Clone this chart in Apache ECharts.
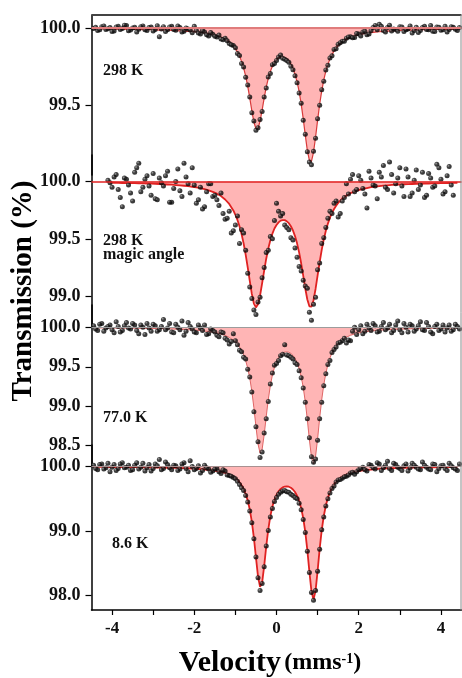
<!DOCTYPE html>
<html><head><meta charset="utf-8">
<script src="https://cdn.jsdelivr.net/npm/echarts@6/dist/echarts.min.js"></script>
<style>html,body{margin:0;padding:0;background:#fff}#c{width:462px;height:678px}</style>
</head><body><div id="c"></div>
<script>
// ---------- DATA ----------
const velocity = [-4.45,-4.35,-4.25,-4.15,-4.05,-3.95,-3.85,-3.75,-3.65,-3.55,-3.45,-3.35,-3.25,-3.15,-3.05,-2.95,-2.85,-2.75,-2.65,-2.55,-2.45,-2.35,-2.25,-2.15,-2.05,-1.95,-1.85,-1.75,-1.65,-1.55,-1.45,-1.35,-1.25,-1.15,-1.05,
-1.00,-0.95,-0.90,-0.85,-0.80,-0.75,-0.70,-0.65,-0.60,-0.55,-0.50,-0.45,-0.40,-0.35,-0.30,-0.25,-0.20,-0.15,-0.10,-0.05,0.00,0.05,0.10,0.15,0.20,0.25,0.30,0.35,0.40,0.45,0.50,0.55,0.60,0.65,0.70,0.75,0.80,0.85,0.90,0.95,1.00,1.05,1.10,1.15,1.20,1.25,1.30,1.35,1.40,1.45,1.50,
1.60,1.70,1.80,1.90,2.00,2.10,2.20,2.30,2.40,2.50,2.60,2.70,2.80,2.90,3.00,3.10,3.20,3.30,3.40,3.50,3.60,3.70,3.80,3.90,4.00,4.10,4.20,4.30,4.40];

// extra measured points in the flat wings (between the channels above)
const velocityWing = [-4.40,-4.30,-4.20,-4.10,-4.00,-3.90,-3.80,-3.70,-3.60,-3.50,-3.40,-3.30,-3.20,-3.10,-3.00,-2.90,-2.80,-2.70,-2.60,-2.50,-2.40,-2.30,-2.20,-2.10,-2.00,-1.90,-1.80,-1.70,-1.60,-1.50,-1.40,-1.30,-1.20,-1.10,
1.55,1.65,1.75,1.85,1.95,2.05,2.15,2.25,2.35,2.45,2.55,2.65,2.75,2.85,2.95,3.05,3.15,3.25,3.35,3.45,3.55,3.65,3.75,3.85,3.95,4.05,4.15,4.25,4.35,4.45];

const data298K = [99.998,99.985,100.010,99.992,100.004,99.981,100.012,99.998,100.018,99.989,100.006,99.994,100.015,99.985,100.008,99.992,99.945,100.010,99.990,100.012,99.986,100.005,99.980,99.995,99.970,99.985,99.962,99.975,99.950,99.960,99.942,99.930,99.935,99.900,99.888,
99.872,99.836,99.822,99.770,99.748,99.680,99.630,99.552,99.450,99.396,99.335,99.352,99.405,99.458,99.552,99.610,99.682,99.705,99.762,99.770,99.790,99.812,99.825,99.805,99.798,99.790,99.778,99.752,99.730,99.690,99.645,99.578,99.512,99.400,99.310,99.196,99.128,99.110,99.198,99.284,99.410,99.498,99.600,99.655,99.728,99.758,99.806,99.820,99.862,99.866,99.895,
99.915,99.935,99.945,99.940,99.962,99.975,99.958,99.985,100.018,100.025,99.985,100.005,99.982,99.992,100.010,99.978,99.995,99.968,100.006,99.985,100.012,99.990,99.980,100.008,99.986,100.012,99.992,100.006,99.985];
const wing298K = [100.006,99.990,100.015,99.996,99.978,100.008,99.992,100.020,99.984,100.002,99.975,100.010,99.990,100.004,99.982,100.016,99.995,99.978,100.008,99.992,100.014,99.976,100.002,99.988,100.012,99.968,99.985,99.958,99.972,99.948,99.955,99.925,99.918,99.892,
99.905,99.915,99.942,99.938,99.965,99.950,99.980,99.962,100.005,99.990,100.012,99.975,100.020,99.995,99.980,100.008,99.990,100.015,99.985,99.972,100.004,99.992,100.018,99.978,100.006,99.990,99.975,100.010,99.994,100.004];
const fit298K = [99.996,99.996,99.995,99.995,99.995,99.994,99.994,99.994,99.993,99.993,99.992,99.992,99.991,99.991,99.990,99.989,99.988,99.988,99.987,99.986,99.984,99.983,99.981,99.979,99.978,99.976,99.972,99.969,99.964,99.958,99.951,99.941,99.928,99.910,99.884,
99.866,99.844,99.818,99.784,99.742,99.688,99.623,99.545,99.463,99.389,99.345,99.348,99.395,99.467,99.545,99.616,99.673,99.718,99.753,99.778,99.795,99.806,99.812,99.813,99.809,99.801,99.786,99.767,99.738,99.700,99.652,99.588,99.507,99.411,99.304,99.204,99.139,99.133,99.192,99.290,99.401,99.505,99.592,99.663,99.720,99.764,99.800,99.828,99.852,99.871,99.886,
99.910,99.927,99.940,99.949,99.957,99.963,99.967,99.971,99.974,99.977,99.979,99.981,99.982,99.984,99.986,99.987,99.988,99.988,99.989,99.990,99.990,99.991,99.991,99.992,99.992,99.993,99.993,99.993,99.994];

const data298KMagic = [null,null,null,null,99.99,100.04,99.93,99.78,100.02,99.90,100.08,100.16,99.95,100.05,99.88,99.85,100.03,99.96,100.09,99.82,100.00,99.92,100.16,99.98,100.12,99.81,99.95,99.78,99.98,99.87,99.84,99.90,99.67,99.74,99.57,
99.62,99.70,99.46,99.58,99.55,99.40,99.20,99.08,98.98,98.88,98.84,98.95,98.99,99.16,99.25,99.38,99.40,99.52,99.50,99.66,99.81,99.74,99.70,99.72,99.62,99.60,99.58,99.51,99.49,99.42,99.34,99.26,99.22,99.14,99.09,99.07,98.86,98.79,98.93,98.99,99.23,99.29,99.46,99.51,99.60,99.68,99.74,99.72,99.81,99.83,99.69,
99.83,99.98,100.02,99.91,100.05,99.94,99.77,100.03,99.96,100.08,100.14,99.93,100.06,99.98,100.12,99.87,100.04,99.90,100.10,99.97,99.86,100.07,99.95,100.15,100.02,99.91,100.13,99.88,null];
const wing298KMagic = [null,null,null,100.01,99.95,100.06,99.86,100.03,99.97,99.83,100.12,99.91,100.02,99.96,100.07,99.84,99.99,100.05,99.82,99.94,100.11,99.87,100.04,99.90,99.97,99.84,99.76,99.91,99.98,99.88,99.79,99.72,99.68,99.55,
99.72,99.86,99.89,100.06,99.93,100.01,99.89,100.09,99.97,99.85,100.04,99.95,100.17,99.90,100.03,99.96,100.11,99.87,100.01,99.93,100.08,99.88,100.03,99.96,100.12,99.89,100.05,99.97,null,null];
const fit298KMagic = [null,null,null,null,99.990,99.989,99.988,99.987,99.986,99.986,99.985,99.984,99.983,99.982,99.981,99.980,99.978,99.976,99.974,99.972,99.969,99.966,99.963,99.959,99.954,99.948,99.942,99.933,99.923,99.910,99.894,99.873,99.843,99.804,99.748,
99.710,99.665,99.609,99.542,99.461,99.363,99.252,99.133,99.020,98.936,98.902,98.929,99.006,99.112,99.223,99.327,99.416,99.488,99.545,99.590,99.621,99.644,99.659,99.664,99.663,99.653,99.637,99.610,99.573,99.524,99.461,99.382,99.287,99.179,99.067,98.971,98.912,98.909,98.965,99.063,99.181,99.298,99.404,99.495,99.571,99.633,99.684,99.726,99.760,99.789,99.813,
99.851,99.877,99.898,99.913,99.925,99.935,99.943,99.950,99.955,99.960,99.964,99.967,99.970,99.972,99.974,99.976,99.977,99.978,99.979,99.980,99.981,99.982,99.983,99.984,99.985,99.986,99.987,99.988,99.989];

const data77K = [100.02,99.96,100.05,99.99,100.03,99.93,100.01,99.96,100.06,99.98,100.03,99.92,100.00,100.05,99.95,100.02,99.97,100.10,99.99,99.94,100.04,99.97,99.90,100.06,99.98,99.93,99.99,100.03,99.92,99.96,99.90,99.94,99.86,99.79,99.92,
99.83,99.78,99.71,99.69,99.62,99.60,99.47,99.37,99.18,98.93,98.74,98.55,98.35,98.42,98.66,98.84,99.06,99.28,99.42,99.52,99.54,99.58,99.64,99.66,99.78,99.65,99.64,99.62,99.60,99.55,99.53,99.45,99.36,99.23,99.05,98.84,98.60,98.36,98.29,98.33,98.57,98.84,99.05,99.26,99.41,99.53,99.58,99.68,99.72,99.75,99.80,
99.83,99.80,99.83,100.00,99.97,99.92,100.04,99.96,100.02,99.95,100.06,99.99,99.93,100.03,99.97,100.05,99.94,100.02,99.98,100.07,99.96,100.01,99.92,100.04,99.98,99.94,100.03,99.97,100.01];
const wing77K = [99.98,100.04,99.95,100.01,99.97,100.07,99.94,100.02,99.99,100.05,99.96,100.03,99.91,99.99,100.04,99.95,100.01,99.97,100.05,99.93,100.00,100.08,99.95,100.01,99.94,100.03,99.96,99.91,99.98,99.94,99.88,99.93,99.84,99.82,
99.81,99.86,99.84,99.95,99.91,100.02,99.95,99.99,100.05,99.94,100.01,99.97,100.04,99.96,100.08,99.93,100.00,100.04,99.95,100.02,99.97,100.06,99.94,100.01,99.96,100.03,99.99,99.95,100.04,99.98];
const fit77K = [99.993,99.992,99.992,99.992,99.991,99.991,99.990,99.990,99.989,99.989,99.988,99.987,99.987,99.986,99.985,99.984,99.983,99.982,99.980,99.979,99.977,99.975,99.973,99.970,99.967,99.963,99.959,99.953,99.946,99.938,99.928,99.914,99.897,99.872,99.838,
99.815,99.787,99.752,99.708,99.651,99.578,99.482,99.356,99.190,98.981,98.742,98.522,98.405,98.453,98.636,98.869,99.085,99.260,99.394,99.492,99.563,99.615,99.650,99.673,99.686,99.689,99.684,99.669,99.644,99.606,99.553,99.478,99.377,99.239,99.058,98.830,98.576,98.358,98.270,98.364,98.588,98.849,99.084,99.272,99.417,99.527,99.611,99.675,99.725,99.765,99.797,
99.843,99.875,99.899,99.916,99.929,99.939,99.947,99.953,99.959,99.963,99.967,99.970,99.972,99.975,99.977,99.979,99.980,99.982,99.983,99.984,99.985,99.987,99.987,99.988,99.989,99.989,99.990,99.990,99.991];

const data8K = [100.02,99.95,100.04,99.98,99.92,100.03,99.97,100.06,99.99,99.94,100.02,99.96,100.05,99.98,99.93,100.04,100.11,99.97,100.03,99.95,100.01,99.96,100.06,99.92,100.00,99.97,99.90,100.02,99.96,99.93,99.97,99.89,99.93,99.86,99.83,
99.81,99.77,99.72,99.67,99.63,99.55,99.45,99.31,99.13,98.88,98.60,98.28,98.08,98.19,98.45,98.77,99.01,99.22,99.35,99.46,99.52,99.57,99.60,99.62,99.63,99.61,99.60,99.57,99.55,99.52,99.50,99.43,99.33,99.18,98.98,98.69,98.36,98.05,97.93,98.08,98.38,98.72,99.02,99.22,99.39,99.50,99.59,99.66,99.70,99.76,99.79,
99.82,99.85,99.90,99.88,99.95,99.99,99.93,100.02,99.96,100.04,99.98,100.08,99.94,100.03,99.97,100.01,99.93,100.05,99.99,99.95,100.02,99.96,100.04,99.92,100.01,99.97,100.05,99.98,99.94];
const wing8K = [99.97,100.03,99.96,100.05,99.99,99.94,100.04,99.98,100.02,99.95,100.06,99.99,99.93,100.03,99.97,100.01,99.95,100.07,99.98,100.02,99.94,100.04,99.97,100.09,99.95,100.01,99.94,99.98,99.91,99.96,99.92,99.95,99.87,99.85,
99.80,99.84,99.87,99.91,99.92,99.97,99.95,100.03,99.98,100.06,99.94,100.02,99.97,100.05,99.99,99.94,100.04,99.98,100.02,99.96,100.07,99.99,99.95,100.03,99.97,100.02,99.94,100.01,99.96,100.04];
const fit8K = [99.994,99.993,99.993,99.993,99.992,99.992,99.991,99.991,99.990,99.990,99.989,99.988,99.988,99.987,99.986,99.985,99.984,99.983,99.981,99.980,99.978,99.976,99.974,99.971,99.967,99.963,99.959,99.954,99.947,99.940,99.930,99.917,99.900,99.876,99.841,
99.818,99.791,99.755,99.710,99.652,99.575,99.473,99.334,99.146,98.897,98.595,98.300,98.136,98.204,98.458,98.762,99.028,99.233,99.382,99.487,99.563,99.617,99.653,99.677,99.690,99.693,99.687,99.672,99.645,99.606,99.548,99.467,99.357,99.202,98.989,98.707,98.373,98.069,97.941,98.075,98.385,98.725,99.014,99.234,99.396,99.515,99.605,99.673,99.725,99.766,99.798,
99.845,99.877,99.899,99.916,99.930,99.940,99.947,99.953,99.960,99.964,99.967,99.970,99.973,99.975,99.977,99.979,99.981,99.982,99.983,99.985,99.986,99.987,99.988,99.988,99.989,99.990,99.991,99.991,99.992];

const yTicks298K = [99.5, 100.0];
const yTicksMagic = [99.0, 99.5, 100.0];
const yTicks77K = [98.5, 99.0, 99.5, 100.0];
const yTicks8K = [98.0, 99.0, 100.0];
const xTickValues = [-4, -3, -2, -1, 0, 1, 2, 3, 4];
const xLabelValues = [-4, -2, 0, 2, 4];
const baselineValue = 100;

// ---------- LAYOUT / STYLE ----------
const W = 462, H = 678;
const FONT = '"Liberation Serif","Times New Roman",serif';
const PL = 91.5, PR = 0.5, PT = 15, PB = 610;

const panels = [
  {data: data298K, wing: wing298K, fit: fit298K, top: 15, bot: 175, yMin: 99.044, yMax: 100.086, ticks: yTicks298K,
   fitColor: '#d93b3b', fitWidth: 1.2, baseColor: '#e07c7c', baseWidth: 2},
  {data: data298KMagic, wing: wing298KMagic, fit: fit298KMagic, top: 155, bot: 325, yMin: 98.749, yMax: 100.231, ticks: yTicksMagic,
   fitColor: '#e02222', fitWidth: 1.8, baseColor: '#e02222', baseWidth: 1.5},
  {data: data77K, wing: wing77K, fit: fit77K, top: 305, bot: 466, yMin: 98.242, yMax: 100.283, ticks: yTicks77K,
   fitColor: '#e06666', fitWidth: 1, baseColor: '#9c9c9c', baseWidth: 1.2},
  {data: data8K, wing: wing8K, fit: fit8K, top: 445, bot: 610, yMin: 97.779, yMax: 100.333, ticks: yTicks8K,
   fitColor: '#e02222', fitWidth: 1.8, baseColor: '#a89090', baseWidth: 1.2}
];

const ball = {type: 'radial', x: 0.35, y: 0.35, r: 0.7,
  colorStops: [{offset: 0, color: '#8a8a8a'}, {offset: 0.4, color: '#151515'}, {offset: 1, color: '#000'}]};

const grid = [], xAxis = [], yAxis = [], series = [];
panels.forEach((p, i) => {
  grid.push({left: PL, right: PR, top: p.top, bottom: H - p.bot, containLabel: false});
  const last = i === panels.length - 1;
  xAxis.push({
    type: 'value', gridIndex: i, min: -4.5, max: 4.5, show: last,
    axisLine: {show: true, onZero: false, lineStyle: {color: '#000', width: 1.5}},
    axisTick: {show: true, inside: false, length: 5, customValues: xTickValues, lineStyle: {color: '#000', width: 1.2}},
    axisLabel: {show: true, customValues: xLabelValues, margin: 10, color: '#111',
      fontFamily: FONT, fontWeight: 'bold', fontSize: 17, formatter: v => String(v)},
    splitLine: {show: false}
  });
  yAxis.push({
    type: 'value', gridIndex: i, min: p.yMin, max: p.yMax, position: 'left',
    axisLine: {show: true, onZero: false, lineStyle: {color: '#000', width: 1.5}},
    axisTick: {show: true, inside: false, length: 6, customValues: p.ticks, lineStyle: {color: '#000', width: 1.2}},
    axisLabel: {show: true, customValues: p.ticks, margin: 11, color: '#111',
      fontFamily: FONT, fontWeight: 'bold', fontSize: 18, formatter: v => v.toFixed(1)},
    splitLine: {show: false}
  });
  series.push({
    type: 'line', xAxisIndex: i, yAxisIndex: i, showSymbol: false, symbol: 'none',
    data: velocity.map((v, k) => [v, p.fit[k]]),
    lineStyle: {color: p.fitColor, width: p.fitWidth},
    areaStyle: {color: '#ffb5b5', opacity: 1, origin: baselineValue},
    markLine: {silent: true, symbol: 'none', label: {show: false},
      lineStyle: {color: p.baseColor, width: p.baseWidth, type: 'solid'},
      data: [{yAxis: baselineValue}]},
    z: 2, clip: false, animation: false
  });
  const pts = velocity.map((v, k) => [v, p.data[k]])
    .concat(velocityWing.map((v, k) => [v, p.wing[k]]))
    .filter(d => d[1] !== null);
  series.push({
    type: 'scatter', xAxisIndex: i, yAxisIndex: i, symbolSize: 5,
    data: pts, itemStyle: {color: ball}, z: 3, clip: false, animation: false
  });
});

const option = {
  animation: false,
  backgroundColor: '#fff',
  grid, xAxis, yAxis, series,
  graphic: [
    {type: 'line', z: 10, shape: {x1: PL, y1: PT, x2: W - PR, y2: PT}, style: {stroke: '#444', lineWidth: 2}},
    {type: 'line', z: 10, shape: {x1: W - 1, y1: PT, x2: W - 1, y2: PB}, style: {stroke: '#8a8a8a', lineWidth: 1}},
    {type: 'text', x: 24, y: 291, rotation: Math.PI / 2, z: 10,
      style: {text: 'Transmission (%)', font: 'bold 29px ' + FONT, fill: '#000', textAlign: 'center', textVerticalAlign: 'middle'}},
    {type: 'text', x: 270, y: 663, z: 10,
      style: {text: '{a|Velocity} {b|(mms}{c|-1}{b|)}', textAlign: 'center', textVerticalAlign: 'middle', fill: '#000',
        rich: {
          a: {fontFamily: FONT, fontWeight: 'bold', fontSize: 30, lineHeight: 30, verticalAlign: 'bottom', fill: '#000'},
          b: {fontFamily: FONT, fontWeight: 'bold', fontSize: 24, lineHeight: 24, verticalAlign: 'bottom', padding: [0, 0, 3, 0], fill: '#000'},
          c: {fontFamily: FONT, fontWeight: 'bold', fontSize: 14, lineHeight: 14, verticalAlign: 'top', padding: [4, 0, 0, 0], fill: '#000'}
        }}},
    {type: 'text', x: 103, y: 70.5, z: 10, style: {text: '298 K', font: 'bold 16px ' + FONT, fill: '#111', textVerticalAlign: 'middle'}},
    {type: 'text', x: 103, y: 241, z: 10, style: {text: '298 K', font: 'bold 16px ' + FONT, fill: '#111', textVerticalAlign: 'middle'}},
    {type: 'text', x: 103, y: 255, z: 10, style: {text: 'magic angle', font: 'bold 16px ' + FONT, fill: '#111', textVerticalAlign: 'middle'}},
    {type: 'text', x: 103, y: 417.5, z: 10, style: {text: '77.0 K', font: 'bold 16px ' + FONT, fill: '#111', textVerticalAlign: 'middle'}},
    {type: 'text', x: 112, y: 543.5, z: 10, style: {text: '8.6 K', font: 'bold 16px ' + FONT, fill: '#111', textVerticalAlign: 'middle'}}
  ]
};

const chart = echarts.init(document.getElementById('c'), null, {renderer: 'canvas', width: W, height: H});
chart.setOption(option);
</script>
</body></html>
